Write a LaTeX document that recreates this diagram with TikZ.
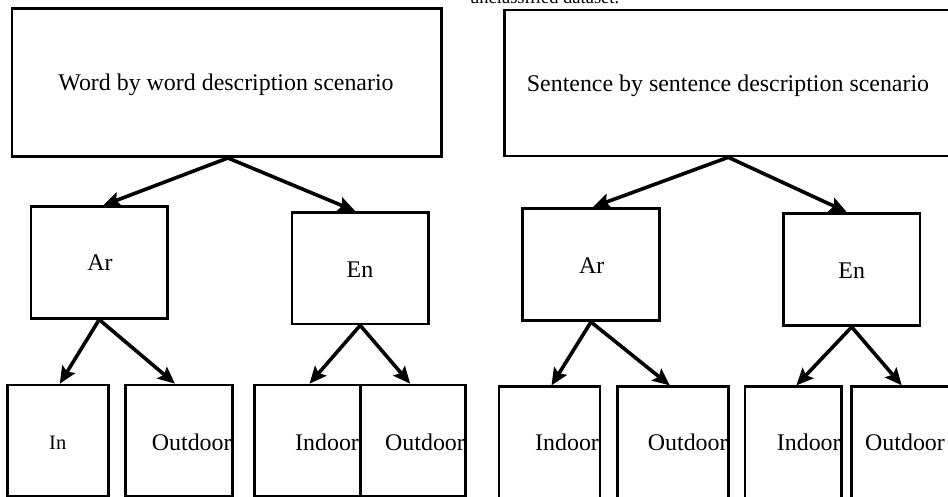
\documentclass[tikz,border=0pt]{standalone}
\usepackage{fontspec}
\setmainfont{Liberation Serif}
\usetikzlibrary{arrows.meta}
\begin{document}
\begin{tikzpicture}[x=1pt,y=-1pt,
  box/.style={draw=black,line width=2.6pt,inner sep=0pt,fill=none},
  lbl/.style={font=\fontsize{23.9}{28}\selectfont,inner sep=0pt},
  small/.style={font=\fontsize{20.5}{24}\selectfont,inner sep=0pt},
  conn/.style={line width=3.6pt,-{Stealth[length=17pt,width=15pt,inset=3pt]}}]
\useasboundingbox (0,0) rectangle (948,497);
\clip (0,0) rectangle (948,497);
% top title (cut off at the top edge, as in the reference)
\node[font=\fontsize{18.5}{22}\selectfont,inner sep=0pt,anchor=base west] (title) at (470,3.5) {unclassified dataset.};
% top boxes
\node[box,minimum width=429.7pt,minimum height=148pt] (W) at (226.9,82.7) {};
\node[box,minimum width=448pt,minimum height=146pt] (S) at (728.3,83) {};
\node[lbl,anchor=base] (Wt) at (226,90.7) {Word by word description scenario};
\node[lbl,anchor=base] (St) at (728,91.7) {Sentence by sentence description scenario};
% middle boxes
\node[box,minimum width=136.3pt,minimum height=111.6pt] (Ar1) at (99.2,262.5) {};
\node[box,minimum width=136.3pt,minimum height=111.7pt] (En1) at (360.2,268.2) {};
\node[box,minimum width=136.6pt,minimum height=112.4pt] (Ar2) at (591,264.5) {};
\node[box,minimum width=136.7pt,minimum height=112.4pt] (En2) at (851.7,269.5) {};
\node[lbl,anchor=base] (Ar1t) at (100,271) {Ar};
\node[lbl,anchor=base] (En1t) at (360,277.3) {En};
\node[lbl,anchor=base] (Ar2t) at (591.7,273.3) {Ar};
\node[lbl,anchor=base] (En2t) at (851.7,278.3) {En};
% bottom boxes
\node[box,minimum width=101pt,minimum height=111pt] (b1) at (57.8,440.5) {};
\node[box,minimum width=106.6pt,minimum height=111pt] (b2) at (179,440.5) {};
\node[box,minimum width=106.4pt,minimum height=111pt] (b3) at (307.5,440.5) {};
\node[box,minimum width=105pt,minimum height=111pt] (b4) at (413.2,440.5) {};
\node[box,minimum width=101pt,minimum height=120pt] (b5) at (549.5,446.7) {};
\node[box,minimum width=111pt,minimum height=120pt] (b6) at (672.8,446.7) {};
\node[box,minimum width=96.7pt,minimum height=120pt] (b7) at (793.3,446.7) {};
\node[box,minimum width=100.3pt,minimum height=120pt] (b8) at (901.8,446.7) {};
\node[small,anchor=base west] (b1t) at (49,449.3) {In};
\node[lbl,anchor=base west] (b2t) at (151.7,450) {Outdoor};
\node[lbl,anchor=base west] (b3t) at (295,450) {Indoor};
\node[lbl,anchor=base west] (b4t) at (385,450) {Outdoor};
\node[lbl,anchor=base west] (b5t) at (535,450.7) {Indoor};
\node[lbl,anchor=base west] (b6t) at (647.7,450.7) {Outdoor};
\node[lbl,anchor=base west] (b7t) at (776.7,450.7) {Indoor};
\node[lbl,anchor=base west] (b8t) at (865,450.7) {Outdoor};
% connectors
\draw[conn] ([xshift=1pt]W.south) -- ([xshift=4pt]Ar1.north);
\draw[conn] ([xshift=1pt]W.south) -- ([xshift=-5pt]En1.north);
\draw[conn] (S.south) -- ([xshift=2pt]Ar2.north);
\draw[conn] (S.south) -- ([xshift=-5pt]En2.north);
\draw[conn] (Ar1.south) -- ([xshift=2pt]b1.north);
\draw[conn] (Ar1.south) -- ([xshift=-4pt]b2.north);
\draw[conn] (En1.south) -- ([xshift=2pt]b3.north);
\draw[conn] (En1.south) -- ([xshift=-3pt]b4.north);
\draw[conn] (Ar2.south) -- ([xshift=2pt]b5.north);
\draw[conn] (Ar2.south) -- ([xshift=-3pt]b6.north);
\draw[conn] (En2.south) -- ([xshift=3pt]b7.north);
\draw[conn] (En2.south) -- (b8.north);
\end{tikzpicture}
\end{document}
